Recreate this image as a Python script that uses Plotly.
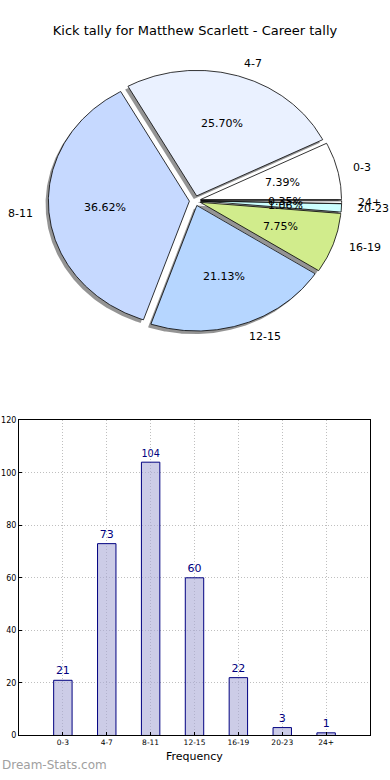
import math
import plotly.graph_objects as go

categories = ["0-3", "4-7", "8-11", "12-15", "16-19", "20-23", "24+"]
counts = [21, 73, 104, 60, 22, 3, 1]
pie_colors = ["#ffffff", "#eaf1ff", "#c6d9ff", "#b6d6ff", "#d1ec8c", "#ccffff", "#ffffff"]
y_ticks = [0, 20, 40, 60, 80, 100, 120]

title = "Kick tally for Matthew Scarlett - Career tally"
explode = 0.04
FONT = "DejaVu Sans"

total = sum(counts)
fig = go.Figure()

# ---- pie drawn as wedges on a cartesian subplot (elliptical like reference) ----
wedges = []
start = 0.0
for i, v in enumerate(counts):
    span = 360.0 * v / total
    t1, t2 = start, start + span
    mid = math.radians((t1 + t2) / 2)
    cx, cy = explode * math.cos(mid), explode * math.sin(mid)
    n = max(4, int(span * 2))
    xs, ys = [cx], [cy]
    for k in range(n + 1):
        a = math.radians(t1 + (t2 - t1) * k / n)
        xs.append(cx + math.cos(a))
        ys.append(cy + math.sin(a))
    xs.append(cx)
    ys.append(cy)
    wedges.append((xs, ys, mid, cx, cy))
    start = t2

for xs, ys, mid, cx, cy in wedges:
    fig.add_trace(go.Scatter(
        x=[x - 0.02 for x in xs], y=[y - 0.025 for y in ys],
        fill="toself", fillcolor="rgba(0,0,0,0.42)", mode="lines",
        line=dict(width=0), hoverinfo="skip", showlegend=False,
        xaxis="x2", yaxis="y2"))

for i, (xs, ys, mid, cx, cy) in enumerate(wedges):
    fig.add_trace(go.Scatter(
        x=xs, y=ys, fill="toself", fillcolor=pie_colors[i], mode="lines",
        line=dict(color="black", width=0.8), name=categories[i],
        hoverinfo="name", showlegend=False, xaxis="x2", yaxis="y2"))

annotations = []
for i, (xs, ys, mid, cx, cy) in enumerate(wedges):
    pct = 100.0 * counts[i] / total
    px, py = cx + 0.6 * math.cos(mid), cy + 0.6 * math.sin(mid)
    annotations.append(dict(x=px, y=py, xref="x2", yref="y2", text=f"{pct:.2f}%",
                            showarrow=False, xanchor="center", yanchor="middle",
                            font=dict(family=FONT, size=11, color="black")))
    lx, ly = cx + 1.1 * math.cos(mid), cy + 1.1 * math.sin(mid)
    annotations.append(dict(x=lx, y=ly, xref="x2", yref="y2", text=categories[i],
                            showarrow=False, xanchor="left" if lx > 0 else "right",
                            yanchor="middle",
                            font=dict(family=FONT, size=11, color="black")))

# ---- bar chart ----
xi = list(range(len(categories)))
fig.add_trace(go.Bar(
    x=xi, y=counts, width=0.42, text=[str(c) for c in counts],
    textposition="outside", cliponaxis=False,
    textfont=dict(family=FONT, size=11, color="#000080"),
    marker=dict(color="rgba(170,170,215,0.6)", line=dict(color="#000080", width=1)),
    showlegend=False, xaxis="x", yaxis="y"))

annotations.append(dict(x=0, y=0.0, xref="paper", yref="paper", text="Dream-Stats.com",
                        showarrow=False, xanchor="left", yanchor="bottom", yshift=1,
                        font=dict(family=FONT, size=12, color="#a0a0a0")))
annotations.append(dict(x=(0.0487 + 0.9487) / 2, y=1 - 761 / 780, xref="paper", yref="paper",
                        text="Frequency", showarrow=False, xanchor="center", yanchor="middle",
                        font=dict(family=FONT, size=11, color="black")))

rx, ry = 141.0, 127.0
grid_dash = "1px,2px"
fig.update_layout(
    width=390, height=780,
    margin=dict(l=0, r=0, t=0, b=0),
    paper_bgcolor="white", plot_bgcolor="white",
    title=dict(text=title, x=0.5, xanchor="center", y=1 - 30 / 780, yanchor="middle",
               font=dict(family=FONT, size=13, color="black")),
    xaxis2=dict(domain=[0, 1], range=[-195 / rx, 195 / rx], visible=False, fixedrange=True),
    yaxis2=dict(domain=[(780 - 378) / 780, (780 - 20) / 780],
                range=[-179 / ry, 179 / ry], visible=False, fixedrange=True),
    xaxis=dict(domain=[19 / 390, 370 / 390], range=[-1, 7], tickvals=xi, ticktext=categories,
               showgrid=True, gridcolor="#bfbfbf", griddash=grid_dash, gridwidth=1,
               showline=True, linecolor="black", linewidth=1, mirror=True,
               ticks="inside", ticklen=3, tickcolor="black", layer="above traces",
               tickfont=dict(family=FONT, size=7.5, color="black"), zeroline=False),
    yaxis=dict(domain=[(780 - 740) / 780, (780 - 421) / 780], range=[0, 120], tickvals=y_ticks,
               showgrid=True, gridcolor="#bfbfbf", griddash=grid_dash, gridwidth=1,
               showline=True, linecolor="black", linewidth=1, mirror=True,
               ticks="inside", ticklen=3, tickcolor="black", layer="above traces",
               tickfont=dict(family=FONT, size=8, color="black"), zeroline=False),
    annotations=annotations,
    font=dict(family=FONT),
)

fig.write_html("out.html", config={"displayModeBar": False},
               post_script="document.body.style.margin='0px';document.body.style.padding='0px';")
